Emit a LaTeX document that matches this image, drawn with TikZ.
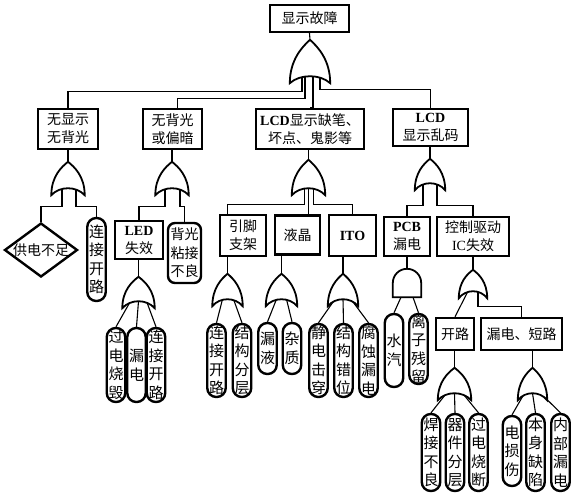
\documentclass[tikz,border=0pt]{standalone}
\usepackage{fontspec}
\setmainfont{Liberation Serif}
\newfontfamily\cjk{Noto Sans CJK SC}
\usepackage{tikz}
\usetikzlibrary{shapes.geometric, calc, backgrounds}
\newcommand{\enbf}[1]{{\rmfamily\bfseries #1}}
\newcommand{\enrm}[1]{{\rmfamily #1}}
\tikzset{
  evbox/.style={rectangle, draw=black, line width=2.4pt, fill=white,
                align=center, inner sep=1pt, font=\cjk\fontsize{14}{18}\selectfont},
  leaf/.style={rectangle, draw=black, line width=2.4pt, fill=white,
               rounded corners=9pt, align=center, inner sep=0pt,
               minimum width=18.5pt, font=\cjk\fontsize{15}{18.5}\selectfont},
  wire/.style={line width=1.1pt},
  gateline/.style={line width=1.8pt, fill=white},
  % south anchor sits at the middle of the hollow base
  orgate/.style={rectangle, inner sep=0pt, minimum width=30pt, minimum height=26pt,
    append after command={\pgfextra{
      \draw[gateline] ([yshift=-7pt]\tikzlastnode.south west)
        .. controls ($(\tikzlastnode.south west)!0.45!(\tikzlastnode.north west)$)
               and ($(\tikzlastnode.north)!0.38!(\tikzlastnode.west)$) .. (\tikzlastnode.north)
        .. controls ($(\tikzlastnode.north)!0.38!(\tikzlastnode.east)$)
               and ($(\tikzlastnode.south east)!0.45!(\tikzlastnode.north east)$)
        .. ([yshift=-7pt]\tikzlastnode.south east)
        .. controls ($(\tikzlastnode.south)!0.5!(\tikzlastnode.south east)+(0pt,2.3pt)$)
               and ($(\tikzlastnode.south)!0.5!(\tikzlastnode.south west)+(0pt,2.3pt)$)
        .. cycle;
    }}},
  andgate/.style={rectangle, inner sep=0pt, minimum width=28pt, minimum height=28pt,
    append after command={\pgfextra{
      \draw[gateline] (\tikzlastnode.south west) -- (\tikzlastnode.west)
        .. controls ($(\tikzlastnode.west)!0.552!(\tikzlastnode.north west)$)
               and ($(\tikzlastnode.north)!0.552!(\tikzlastnode.north west)$) .. (\tikzlastnode.north)
        .. controls ($(\tikzlastnode.north)!0.552!(\tikzlastnode.north east)$)
               and ($(\tikzlastnode.east)!0.552!(\tikzlastnode.north east)$) .. (\tikzlastnode.east)
        -- (\tikzlastnode.south east) -- cycle;
    }}}
}

\begin{document}
\begin{tikzpicture}[x=1pt, y=-1pt]
  \useasboundingbox (0,0) rectangle (576,496);

  % -- top event --
  \node[evbox, minimum width=79pt, minimum height=27pt] (top) at (309.5,18.5) {显示故障};
  \node[orgate, minimum width=40pt, minimum height=36pt] (gTop) at (310,58) {};

  % -- level 1 --
  \node[evbox, minimum width=60pt, minimum height=40pt] (eA) at (68,129) {无显示\\无背光};
  \node[evbox, minimum width=59pt, minimum height=40pt] (eB) at (172.5,129) {无背光\\或偏暗};
  \node[evbox, minimum width=108pt, minimum height=40pt] (eC) at (310,129)
      {\enbf{LCD}显示缺笔、\\坏点、鬼影等};
  \node[evbox, minimum width=75pt, minimum height=37pt] (eD) at (430.5,127.5)
      {\enbf{LCD}\\显示乱码};

  \node[orgate, minimum width=33pt, minimum height=26pt] (gA) at (68,175) {};
  \node[orgate, minimum width=33pt, minimum height=26pt] (gB) at (172,175) {};
  \node[orgate, minimum width=33pt, minimum height=28pt] (gC) at (308.5,174) {};
  \node[orgate, minimum width=30pt, minimum height=24pt] (gD) at (430,171) {};

  % -- under A --
  \node[diamond, draw=black, line width=2.4pt, fill=white, inner sep=0pt,
        minimum width=73pt, minimum height=54pt, font=\cjk\fontsize{14}{18}\selectfont]
      (lA1) at (41,250) {\makebox[0pt]{供电不足}};
  \node[leaf, minimum height=83pt] (lA2) at (96.5,259.5) {连\\接\\开\\路};

  % -- under B --
  \node[evbox, minimum width=48pt, minimum height=38pt] (eB1) at (139,240) {\enbf{LED}\\失效};
  \node[leaf, rounded corners=7pt, minimum width=33pt, minimum height=60pt,
        font=\cjk\fontsize{14}{18.5}\selectfont] (lB2) at (184.5,253) {背光\\粘接\\不良};
  \node[orgate, minimum width=32pt, minimum height=24pt] (gE) at (138.5,289) {};
  \node[leaf, minimum height=74pt] (lE1) at (116,365) {过\\电\\烧\\毁};
  \node[leaf, minimum height=74pt] (lE2) at (136.5,365) {漏\\电};
  \node[leaf, minimum height=74pt] (lE3) at (156,365) {连\\接\\开\\路};

  % -- under C --
  \node[evbox, minimum width=46pt, minimum height=41pt] (eC1) at (243,235.5) {引脚\\支架};
  \node[evbox, minimum width=45pt, minimum height=39pt] (eC2) at (297.5,235) {液晶};
  \node[evbox, minimum width=47pt, minimum height=41pt] (eC3) at (352.5,235.5) {\enbf{ITO}};
  \node[orgate, minimum width=30pt, minimum height=25pt] (gC1) at (227.5,286.5) {};
  \node[orgate, minimum width=31pt, minimum height=25pt] (gC2) at (281.5,286.5) {};
  \node[orgate, minimum width=30pt, minimum height=25pt] (gC3) at (343,286.5) {};
  \node[leaf, minimum height=73pt] (lC11) at (216.5,360.5) {连\\接\\开\\路};
  \node[leaf, minimum height=73pt] (lC12) at (242,360.5) {结\\构\\分\\层};
  \node[leaf, minimum height=51pt] (lC21) at (267.5,348.5) {漏\\液};
  \node[leaf, minimum height=51pt] (lC22) at (292,348.5) {杂\\质};
  \node[leaf, minimum height=73pt] (lC31) at (318.5,360.5) {静\\电\\击\\穿};
  \node[leaf, minimum height=73pt] (lC32) at (343.5,360.5) {结\\构\\错\\位};
  \node[leaf, minimum height=73pt] (lC33) at (368.5,360.5) {腐\\蚀\\漏\\电};

  % -- under D --
  \node[evbox, minimum width=46pt, minimum height=39pt] (eD1) at (407,236.5) {\enbf{PCB}\\漏电};
  \node[evbox, minimum width=72pt, minimum height=39pt] (eD2) at (473,236.5)
      {控制驱动\\\enrm{IC}失效};
  \node[andgate] (gD1) at (407,283) {};
  \node[orgate, minimum width=28pt, minimum height=21pt] (gD2) at (473,280.5) {};
  \node[leaf, minimum height=73pt] (lD1) at (394,350.5) {水\\汽};
  \node[leaf, minimum height=70pt] (lD2) at (418.5,349) {离\\子\\残\\留};
  \node[evbox, minimum width=38pt, minimum height=32pt] (eD3) at (455,334) {开路};
  \node[evbox, minimum width=81pt, minimum height=32pt] (eD4) at (521.5,334) {漏电、短路};
  \node[orgate, minimum width=33pt, minimum height=25pt] (gD3) at (454.5,380.5) {};
  \node[orgate, minimum width=29pt, minimum height=25pt] (gD4) at (532.5,380.5) {};
  \node[leaf, minimum height=77pt] (lD31) at (431,452.5) {焊\\接\\不\\良};
  \node[leaf, minimum height=77pt] (lD32) at (455,452.5) {器\\件\\分\\层};
  \node[leaf, minimum height=77pt] (lD33) at (478.5,452.5) {过\\电\\烧\\断};
  \node[leaf, minimum height=70pt] (lD41) at (512,451) {电\\损\\伤};
  \node[leaf, minimum height=77pt] (lD42) at (535.5,452.5) {本\\身\\缺\\陷};
  \node[leaf, minimum height=77pt] (lD43) at (560.5,452.5) {内\\部\\漏\\电};

  % -- wires --
  \begin{pgfonlayer}{background}
    \draw[wire] (top.south) -- (gTop.north);
    \draw[wire] ([xshift=-8pt]gTop.south) |- ([yshift=16pt]eA.north) -- (eA.north);
    \draw[wire] ([xshift=-5pt]gTop.south) |- ([xshift=5pt,yshift=9pt]eB.north)
        -- ([xshift=5pt]eB.north);
    \draw[wire] ([xshift=3pt]gTop.south) |- (eC.north);
    \draw[wire] ([xshift=10pt]gTop.south) |- ([yshift=18pt]eD.north) -- (eD.north);

    \draw[wire] (gA.north |- eA.south) -- (gA.north);
    \draw[wire] (gB.north |- eB.south) -- (gB.north);
    \draw[wire] (gC.north |- eC.south) -- (gC.north);
    \draw[wire] (gD.north |- eD.south) -- (gD.north);

    \draw[wire] ([xshift=-6pt]gA.south) |- ([yshift=15pt]lA1.north) -- (lA1.north);
    \draw[wire] ([xshift=8pt]gA.south) |- ([yshift=10pt]lA2.north) -- (lA2.north);
    \draw[wire] ([xshift=-7pt]gB.south) |- ([yshift=13pt]eB1.north) -- (eB1.north);
    \draw[wire] ([xshift=8pt]gB.south) |- ([yshift=15pt]lB2.north) -- (lB2.north);
    \draw[wire] (gE.north |- eB1.south) -- (gE.north);
    \draw[wire] ([xshift=-8pt]gE.south) -- (lE1.north);
    \draw[wire] (gE.south) -- (lE2.north);
    \draw[wire] ([xshift=8pt]gE.south) -- (lE3.north);

    \draw[wire] ([xshift=-4pt]gC.south) |- ([yshift=9pt]gC1.north |- eC1.north)
        -- (gC1.north |- eC1.north);
    \draw[wire] (gC.south) -- (gC.south |- eC2.north);
    \draw[wire] ([xshift=5pt]gC.south) |- ([yshift=9pt]eC3.north) -- (eC3.north);
    \draw[wire] (gC1.north |- eC1.south) -- (gC1.north);
    \draw[wire] (gC2.north |- eC2.south) -- (gC2.north);
    \draw[wire] (gC3.north |- eC3.south) -- (gC3.north);
    \draw[wire] ([xshift=-5pt]gC1.south) -- (lC11.north);
    \draw[wire] ([xshift=6pt]gC1.south) -- (lC12.north);
    \draw[wire] ([xshift=-5pt]gC2.south) -- (lC21.north);
    \draw[wire] ([xshift=5pt]gC2.south) -- (lC22.north);
    \draw[wire] ([xshift=-8pt]gC3.south) -- (lC31.north);
    \draw[wire] (gC3.south) -- (lC32.north);
    \draw[wire] ([xshift=8pt]gC3.south) -- (lC33.north);

    \draw[wire] ([xshift=-7pt]gD.south) |- ([yshift=10pt]eD1.north) -- (eD1.north);
    \draw[wire] ([xshift=7pt]gD.south) |- ([yshift=10pt]eD2.north) -- (eD2.north);
    \draw[wire] (gD1.north |- eD1.south) -- (gD1.north);
    \draw[wire] (gD2.north |- eD2.south) -- (gD2.north);
    \draw[wire] ([xshift=-6pt]gD1.south) -- (lD1.north);
    \draw[wire] ([xshift=6pt]gD1.south) -- (lD2.north);
    \draw[wire] ([xshift=-5pt]gD2.south) -- (eD3.north);
    \draw[wire] ([xshift=5pt]gD2.south) |- ([yshift=10pt]eD4.north) -- (eD4.north);
    \draw[wire] (gD3.north |- eD3.south) -- (gD3.north);
    \draw[wire] (gD4.north |- eD4.south) -- (gD4.north);
    \draw[wire] ([xshift=-8pt]gD3.south) -- (lD31.north);
    \draw[wire] (gD3.south) -- (lD32.north);
    \draw[wire] ([xshift=8pt]gD3.south) -- (lD33.north);
    \draw[wire] ([xshift=-8pt]gD4.south) -- (lD41.north);
    \draw[wire] (gD4.south) -- (lD42.north);
    \draw[wire] ([xshift=8pt]gD4.south) -- (lD43.north);
  \end{pgfonlayer}

\end{tikzpicture}
\end{document}
